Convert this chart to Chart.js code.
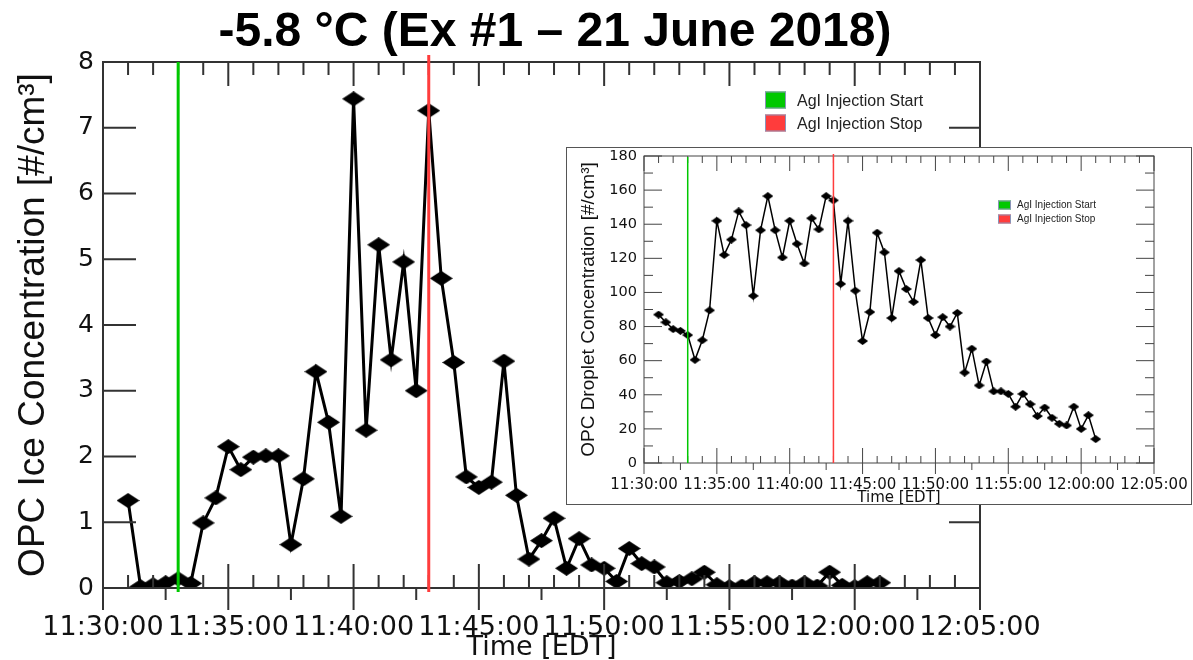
<!DOCTYPE html>
<html>
<head>
<meta charset="utf-8">
<script src="https://cdn.jsdelivr.net/npm/chart.js@4"></script>
<style>
  html, body { margin: 0; padding: 0; background: #fff; }
  #wrap { position: relative; width: 1193px; height: 660px; overflow: hidden; }
  #main { position: absolute; left: 0; top: 0; }
  #insetBox { position: absolute; left: 566px; top: 147px; width: 624px; height: 356px; border: 1px solid #555; background: #fff; }
  #inset { display: block; }
</style>
</head>
<body>
<div id="wrap">
  <canvas id="main" width="1193" height="660"></canvas>
  <div id="insetBox"><canvas id="inset" width="624" height="356"></canvas></div>
</div>
<script>
// sample times (EDT), every 30 s
const times = [
  "11:31:00", "11:31:30", "11:32:00", "11:32:30", "11:33:00", "11:33:30", "11:34:00", "11:34:30", "11:35:00", "11:35:30",
  "11:36:00", "11:36:30", "11:37:00", "11:37:30", "11:38:00", "11:38:30", "11:39:00", "11:39:30", "11:40:00", "11:40:30",
  "11:41:00", "11:41:30", "11:42:00", "11:42:30", "11:43:00", "11:43:30", "11:44:00", "11:44:30", "11:45:00", "11:45:30",
  "11:46:00", "11:46:30", "11:47:00", "11:47:30", "11:48:00", "11:48:30", "11:49:00", "11:49:30", "11:50:00", "11:50:30",
  "11:51:00", "11:51:30", "11:52:00", "11:52:30", "11:53:00", "11:53:30", "11:54:00", "11:54:30", "11:55:00", "11:55:30",
  "11:56:00", "11:56:30", "11:57:00", "11:57:30", "11:58:00", "11:58:30", "11:59:00", "11:59:30", "12:00:00", "12:00:30",
  "12:01:00"
];

// OPC ice concentration [#/cm3]
const iceConc = [
  1.33, 0.02, 0.05, 0.08, 0.14, 0.07, 0.99, 1.37, 2.15, 1.80,
  1.99, 2.01, 2.01, 0.66, 1.66, 3.29, 2.52, 1.09, 7.44, 2.40,
  5.22, 3.47, 4.96, 3.00, 7.26, 4.71, 3.43, 1.69, 1.53, 1.61,
  3.45, 1.41, 0.44, 0.72, 1.06, 0.30, 0.75, 0.35, 0.30, 0.10,
  0.60, 0.37, 0.32, 0.08, 0.10, 0.14, 0.24, 0.05, 0.02, 0.03,
  0.08, 0.08, 0.08, 0.03, 0.08, 0.03, 0.24, 0.04, 0.02, 0.08,
  0.08
];

// OPC droplet concentration [#/cm3] (inset)
const dropletConc = [
  87, 82.5, 78.5, 77.5, 75, 60.5, 72, 89.5, 142, 122,
  131, 147.5, 139.5, 98, 136.5, 156.5, 136.5, 120.5, 142, 128.5,
  117, 143.5, 137, 156.5, 154, 105, 142, 101, 71.5, 88.5,
  135, 123.5, 85, 112.5, 102, 94.5, 119, 85, 75, 85.5,
  80, 88, 53, 67, 45.5, 59.5, 42, 42, 40.5, 33,
  40.5, 34.5, 27.5, 32.5, 26.5, 23, 22, 33, 20, 28,
  14
];

const injectStart = "11:33:00";
const injectStop = "11:43:00";

const xTickLabels = ["11:30:00", "11:35:00", "11:40:00", "11:45:00", "11:50:00", "11:55:00", "12:00:00", "12:05:00"];
const iceTicks = [0, 1, 2, 3, 4, 5, 6, 7, 8];
const dropletTicks = [0, 20, 40, 60, 80, 100, 120, 140, 160, 180];

const titleText = "-5.8 °C (Ex #1 \u2013 21 June 2018)";
const legendLabels = ["AgI Injection Start", "AgI Injection Stop"];

const GREEN = "#00c800";
const RED = "#ff3c3c";

const toSec = t => {
  const [h, m, s] = t.split(":").map(Number);
  return h * 3600 + m * 60 + s;
};

Chart.defaults.font.family = "'DejaVu Sans', sans-serif";
Chart.defaults.color = "#111";

function diamond(w, h) {
  const c = document.createElement("canvas");
  c.width = w;
  c.height = h;
  const g = c.getContext("2d");
  g.fillStyle = "#000";
  g.beginPath();
  g.moveTo(w / 2, 0);
  g.lineTo(w, h / 2);
  g.lineTo(w / 2, h);
  g.lineTo(0, h / 2);
  g.closePath();
  g.fill();
  return c;
}

// box round the plot + inward/outward tick marks like the original plot
function frameTicks(o) {
  return {
    id: "frameTicks",
    afterDatasetsDraw(chart) {
      const { ctx, chartArea: a, scales: { x, y } } = chart;
      ctx.save();
      ctx.strokeStyle = o.color;
      ctx.lineWidth = o.width;
      ctx.strokeRect(a.left, a.top, a.right - a.left, a.bottom - a.top);
      ctx.beginPath();
      for (let t = x.min; t <= x.max; t += 60) {
        const px = x.getPixelForValue(t);
        const len = (t - x.min) % 300 === 0 ? o.inMajor : o.inMinor;
        ctx.moveTo(px, a.bottom); ctx.lineTo(px, a.bottom - len);
        ctx.moveTo(px, a.top); ctx.lineTo(px, a.top + len);
      }
      for (let t = x.min; t <= x.max; t += 150) {
        const px = x.getPixelForValue(t);
        const len = (t - x.min) % 300 === 0 ? o.outMajor : o.outMinor;
        ctx.moveTo(px, a.bottom); ctx.lineTo(px, a.bottom + len);
      }
      for (let v = y.min; v <= y.max; v += o.yStep) {
        const py = y.getPixelForValue(v);
        const major = Math.round(v / o.yStep) % o.yEvery === 0;
        ctx.moveTo(a.left, py); ctx.lineTo(a.left + (major ? o.yLeft : o.yLeft / 2), py);
        ctx.moveTo(a.right, py); ctx.lineTo(a.right - (major ? o.yRight : o.yRight / 2), py);
      }
      ctx.stroke();
      ctx.restore();
    }
  };
}

function injectionLines(o) {
  return {
    id: "injectionLines",
    afterDatasetsDraw(chart) {
      const { ctx, chartArea: a, scales: { x } } = chart;
      ctx.save();
      ctx.lineWidth = o.width;
      [[injectStart, GREEN, o.startTop], [injectStop, RED, o.stopTop]].forEach(([t, col, ext]) => {
        const px = x.getPixelForValue(toSec(t));
        ctx.strokeStyle = col;
        ctx.beginPath();
        ctx.moveTo(px, a.top - ext);
        ctx.lineTo(px, a.bottom + o.bottomExt);
        ctx.stroke();
      });
      ctx.restore();
    }
  };
}

function keyBox(o) {
  return {
    id: "keyBox",
    afterDraw(chart) {
      const ctx = chart.ctx;
      ctx.save();
      if (o.title) {
        ctx.font = "bold 48px 'Liberation Sans', Arial, sans-serif";
        ctx.fillStyle = "#000";
        ctx.textAlign = "center";
        ctx.textBaseline = "middle";
        ctx.fillText(o.title, o.titleX, o.titleY);
      }
      ctx.font = o.font;
      ctx.textAlign = "left";
      ctx.textBaseline = "middle";
      [GREEN, RED].forEach((col, i) => {
        const y = o.y + i * o.gap;
        ctx.fillStyle = col;
        ctx.fillRect(o.x, y - o.h / 2, o.w, o.h);
        ctx.strokeStyle = "#8a94b8";
        ctx.lineWidth = 1;
        ctx.strokeRect(o.x + 0.5, y - o.h / 2 + 0.5, o.w - 1, o.h - 1);
        ctx.fillStyle = "#222";
        ctx.fillText(legendLabels[i], o.x + o.w + o.textGap, y + o.textDy);
      });
      ctx.restore();
    }
  };
}

function makeChart(canvas, values, s) {
  return new Chart(canvas, {
    type: "line",
    data: {
      datasets: [{
        data: times.map((t, i) => ({ x: toSec(t), y: values[i] })),
        borderColor: "#000",
        borderWidth: s.lineWidth,
        pointStyle: s.marker,
        pointRadius: s.marker.width / 2,
        tension: 0
      }]
    },
    options: {
      responsive: false,
      animation: false,
      events: [],
      layout: { padding: s.padding },
      plugins: { legend: { display: false }, tooltip: { enabled: false } },
      scales: {
        x: {
          type: "linear",
          min: toSec(xTickLabels[0]),
          max: toSec(xTickLabels[xTickLabels.length - 1]),
          afterBuildTicks: sc => { sc.ticks = xTickLabels.map(l => ({ value: toSec(l) })); },
          ticks: {
            callback: (v, i) => xTickLabels[i],
            font: { size: s.xFont },
            padding: s.xPad,
            maxRotation: 0,
            autoSkip: false,
            color: "#111"
          },
          grid: { display: false, drawTicks: false },
          border: { display: false },
          title: {
            display: true,
            text: "Time [EDT]",
            font: { size: s.xTitleFont, lineHeight: s.xTitleLH },
            padding: { top: 0, bottom: s.xTitlePad },
            color: "#111"
          },
          afterFit: sc => { sc.height = s.xHeight; sc.paddingLeft = 0; sc.paddingRight = 0; }
        },
        y: {
          min: s.yTicks[0],
          max: s.yTicks[s.yTicks.length - 1],
          afterBuildTicks: sc => { sc.ticks = s.yTicks.map(v => ({ value: v })); },
          ticks: { font: { size: s.yFont }, padding: s.yPad, color: "#111" },
          grid: { display: false, drawTicks: false },
          border: { display: false },
          title: {
            display: true,
            text: s.yTitle,
            font: { family: "'Liberation Sans', Arial, sans-serif", size: s.yTitleFont },
            padding: { top: s.yTitlePad, bottom: 0 },
            color: "#111"
          },
          afterFit: sc => { sc.width = s.yWidth; sc.paddingTop = 0; sc.paddingBottom = 0; }
        }
      }
    },
    plugins: s.plugins
  });
}

makeChart(document.getElementById("main"), iceConc, {
  lineWidth: 3,
  marker: diamond(23, 15),
  padding: { top: 62, right: 213, bottom: 0, left: 0 },
  xFont: 27, xPad: 24, xTitleFont: 27, xTitleLH: 0.8, xTitlePad: 1, xHeight: 72,
  yTicks: iceTicks, yFont: 25, yPad: 9, yWidth: 103,
  yTitle: "OPC Ice Concentration [#/cm\u00b3]", yTitleFont: 37, yTitlePad: 12,
  plugins: [
    frameTicks({ color: "#333", width: 2, inMinor: 13, inMajor: 24, outMinor: 12, outMajor: 22, yStep: 1, yEvery: 1, yLeft: 33, yRight: 31 }),
    injectionLines({ width: 3, startTop: 0, stopTop: 7, bottomExt: 4 }),
    keyBox({ title: titleText, titleX: 555, titleY: 33, font: "16px 'Liberation Sans', Arial, sans-serif", x: 765, y: 100, gap: 23, w: 21, h: 17, textGap: 11, textDy: 2 })
  ]
});

makeChart(document.getElementById("inset"), dropletConc, {
  lineWidth: 1.5,
  marker: diamond(11, 8),
  padding: { top: 8, right: 37, bottom: 0, left: 0 },
  xFont: 15, xPad: 13, xTitleFont: 15, xTitleLH: 0.8, xTitlePad: 0, xHeight: 41,
  yTicks: dropletTicks, yFont: 14.5, yPad: 7, yWidth: 77,
  yTitle: "OPC Droplet Concentration [#/cm\u00b3]", yTitleFont: 19, yTitlePad: 10,
  plugins: [
    frameTicks({ color: "#444", width: 1, inMinor: 7, inMajor: 15, outMinor: 7, outMajor: 11, yStep: 10, yEvery: 2, yLeft: 18, yRight: 18 }),
    injectionLines({ width: 1.5, startTop: -1, stopTop: 2, bottomExt: 0 }),
    keyBox({ font: "10px 'Liberation Sans', Arial, sans-serif", x: 431, y: 57, gap: 14, w: 13, h: 9, textGap: 6, textDy: 0 })
  ]
});
</script>
</body>
</html>
